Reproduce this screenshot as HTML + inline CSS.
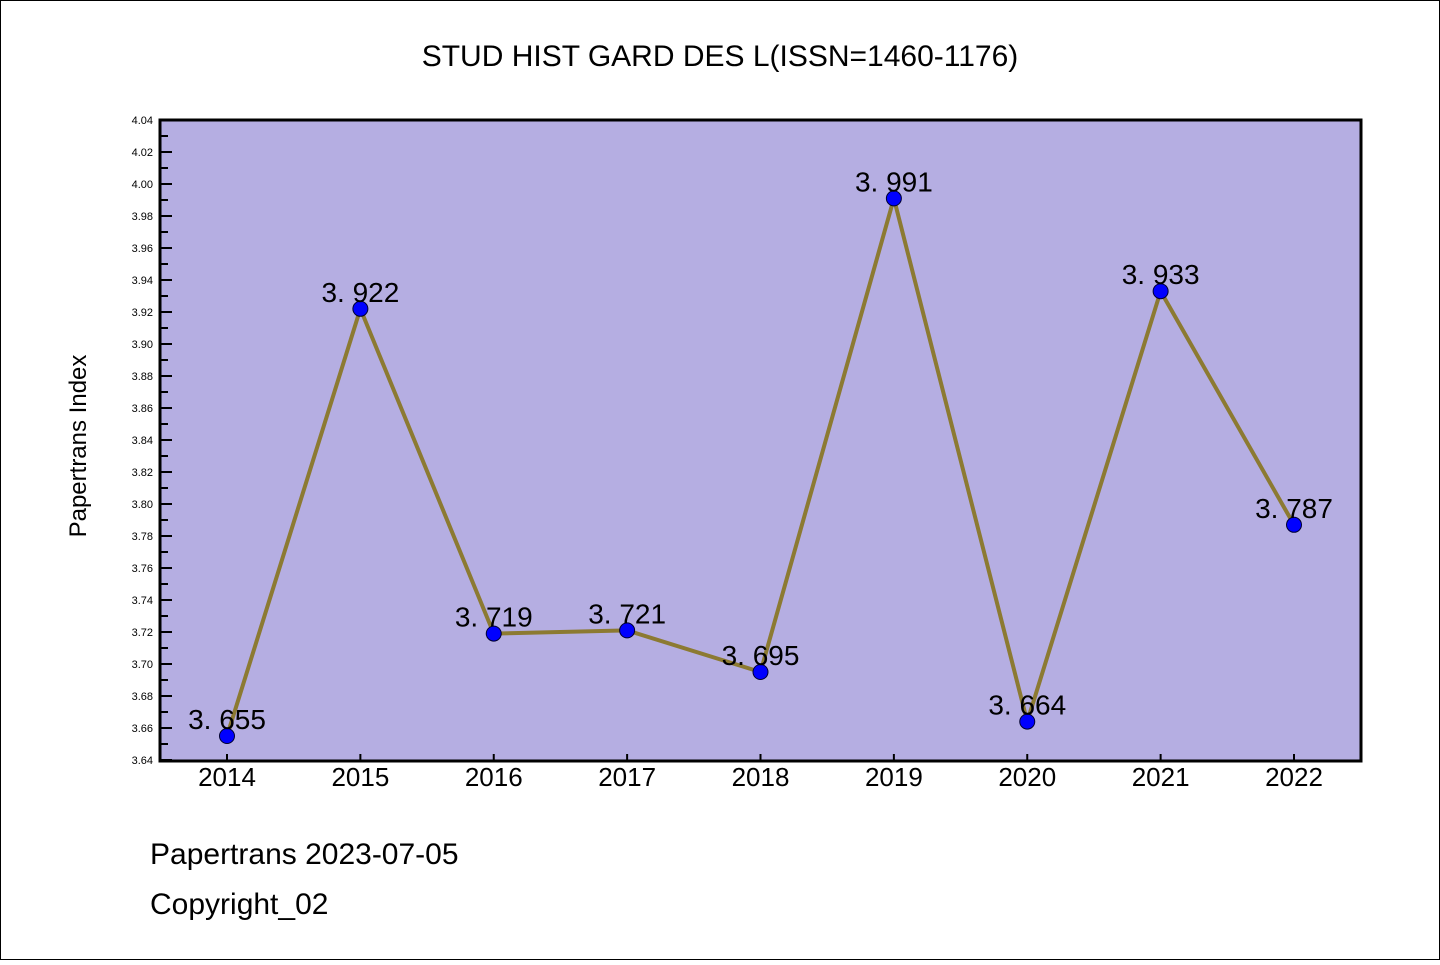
<!DOCTYPE html>
<html><head><meta charset="utf-8"><style>
body{margin:0;background:#fff}
svg text{font-family:"WenQuanYi Zen Hei","Liberation Sans",sans-serif}
</style></head><body>
<svg width="1440" height="960" xmlns="http://www.w3.org/2000/svg">
<rect x="0.5" y="0.5" width="1439" height="959" fill="#fff" stroke="#000" stroke-width="1"/>
<text x="720" y="66" font-size="30" text-anchor="middle">STUD HIST GARD DES L(ISSN=1460-1176)</text>
<rect x="160" y="120" width="1201" height="641" fill="#b5aee2"/>
<g id="ticks"></g>
<g id="series"></g>
<rect x="160" y="120" width="1201" height="641" fill="none" stroke="#000" stroke-width="3"/>
<text x="86" y="446" font-size="24" text-anchor="middle" transform="rotate(-90 86 446)">Papertrans Index</text>
<text x="150" y="864" font-size="30">Papertrans 2023-07-05</text>
<text x="150" y="914" font-size="30">Copyright_02</text>
</svg>
<script>
const years=["2014","2015","2016","2017","2018","2019","2020","2021","2022"];
const values=[3.655,3.922,3.719,3.721,3.695,3.991,3.664,3.933,3.787];
const yMin=3.64,yMax=4.04;
const NS="http://www.w3.org/2000/svg";
function X(i){return 227+i*(1294-227)/(years.length-1);}
function Y(v){return 760-(v-yMin)/(yMax-yMin)*640;}
function mk(t,a,p){const e=document.createElementNS(NS,t);for(const k in a)e.setAttribute(k,a[k]);p.appendChild(e);return e;}
const tg=document.getElementById('ticks'),sg=document.getElementById('series');
for(let k=0;k<=40;k++){
  const v=yMin+k*0.01,y=Y(v),major=k%2===0;
  const l=mk('line',{x1:160,x2:major?172:168,y1:y,y2:y,stroke:'#000','stroke-width':2},tg);
  
  
  if(major){const t=mk('text',{x:153,y:y+4,'font-size':11,'text-anchor':'end'},tg);t.textContent=v.toFixed(2);
    
    }
}
years.forEach((yr,i)=>{
  const l=mk('line',{x1:X(i),x2:X(i),y1:760,y2:754,stroke:'#000','stroke-width':2},tg);
  
  
  const t=mk('text',{x:X(i),y:786,'font-size':26,'text-anchor':'middle'},tg);t.textContent=yr;
  
  
});
const pl=mk('polyline',{points:values.map((v,i)=>X(i)+','+Y(v)).join(' '),fill:'none',stroke:'#8c7a32','stroke-width':4},sg);


values.forEach((v,i)=>{
  const c=mk('circle',{cx:X(i),cy:Y(v),r:7.5,fill:'#0000ff',stroke:'#000030','stroke-width':1},sg);
  
  
  const t=mk('text',{x:X(i),y:Y(v)-7,'font-size':28,'text-anchor':'middle'},sg);t.textContent=v.toFixed(3).replace('.','. ');
  
  
});
</script>
</body></html>
